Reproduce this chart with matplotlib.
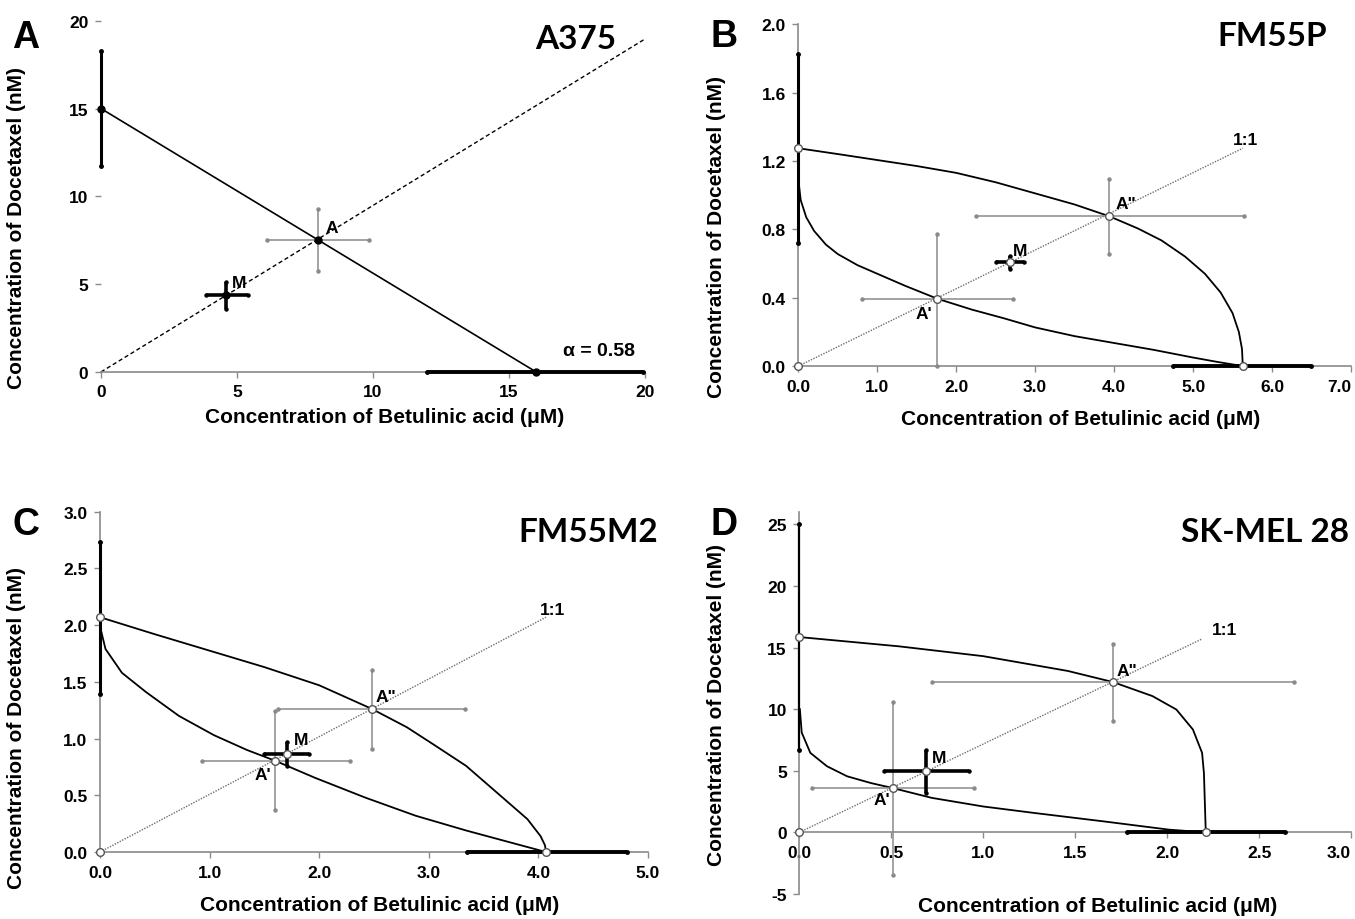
import matplotlib
matplotlib.use("Agg")
import matplotlib.pyplot as plt
from matplotlib.ticker import FormatStrFormatter

plt.rcParams['font.family'] = ['Liberation Sans', 'DejaVu Sans']
plt.rcParams['font.weight'] = 'bold'

GRAY = '#8a8a8a'
XLABEL = 'Concentration of Betulinic acid (\u03bcM)'
YLABEL = 'Concentration of Docetaxel (nM)'

# ---- A: A375 ----
a_iso_x = [0, 16]
a_iso_y = [15, 0]
a_ray_x = [0, 20]
a_ray_y = [0, 18.96]
a_yint_err = [11.74, 18.29]
a_xint_err = [11.97, 19.94]
# name: x, y, xlo, xhi, ylo, yhi
a_pts = {'A': [7.98, 7.52, 6.1, 9.87, 5.75, 9.3],
         'M': [4.6, 4.37, 3.87, 5.4, 3.6, 5.13]}

# ---- B: FM55P ----
b_up_x = [0, 0.5, 1.0, 1.5, 2.0, 2.5, 3.0, 3.5, 3.94, 4.3, 4.6, 4.9, 5.15, 5.35, 5.5, 5.58, 5.62, 5.63]
b_up_y = [1.274, 1.24, 1.205, 1.17, 1.13, 1.075, 1.01, 0.945, 0.876, 0.805, 0.735, 0.64, 0.54, 0.43, 0.31, 0.2, 0.1, 0]
b_lo_x = [0.005, 0.03, 0.1, 0.2, 0.35, 0.5, 0.75, 1.0, 1.35, 1.76, 2.2, 2.6, 3.0, 3.5, 4.0, 4.5, 5.0, 5.3, 5.63]
b_lo_y = [1.07, 0.97, 0.87, 0.79, 0.71, 0.655, 0.59, 0.54, 0.47, 0.394, 0.33, 0.28, 0.226, 0.175, 0.135, 0.095, 0.05, 0.025, 0]
b_ray_x = [0, 5.63]
b_ray_y = [0, 1.274]
b_yint_err = [0.722, 1.824]
b_xint_err = [4.75, 6.5]
b_pts = {"A'": [1.76, 0.394, 0.806, 2.72, 0.0, 0.771],
         'A"': [3.94, 0.876, 2.25, 5.64, 0.658, 1.093],
         'M': [2.68, 0.609, 2.5, 2.86, 0.566, 0.644]}

# ---- C: FM55M2 ----
c_up_x = [0, 0.5, 1.0, 1.5, 2.0, 2.48, 2.8, 3.04, 3.34, 3.65, 3.9, 4.02, 4.06, 4.07]
c_up_y = [2.07, 1.92, 1.775, 1.63, 1.47, 1.262, 1.1, 0.95, 0.76, 0.5, 0.29, 0.14, 0.06, 0]
c_lo_x = [0.005, 0.05, 0.2, 0.42, 0.72, 1.04, 1.34, 1.6, 1.96, 2.42, 2.88, 3.34, 3.8, 4.07]
c_lo_y = [1.97, 1.79, 1.58, 1.41, 1.2, 1.03, 0.9, 0.804, 0.655, 0.48, 0.32, 0.19, 0.07, 0]
c_ray_x = [0, 4.07]
c_ray_y = [0, 2.07]
c_yint_err = [1.394, 2.736]
c_xint_err = [3.35, 4.81]
c_pts = {"A'": [1.6, 0.804, 0.93, 2.28, 0.37, 1.24],
         'A"': [2.48, 1.262, 1.62, 3.33, 0.91, 1.608],
         'M': [1.71, 0.868, 1.5, 1.91, 0.76, 0.97]}

# ---- D: SK-MEL 28 ----
d_up_x = [0, 0.54, 1.0, 1.46, 1.705, 1.92, 2.05, 2.14, 2.19, 2.2, 2.21]
d_up_y = [15.85, 15.1, 14.3, 13.1, 12.2, 11.06, 9.97, 8.35, 6.45, 4.8, 0]
d_lo_x = [0.003, 0.013, 0.06, 0.15, 0.26, 0.39, 0.507, 0.72, 1.0, 1.28, 1.65, 2.01, 2.21]
d_lo_y = [10.0, 8.1, 6.45, 5.37, 4.55, 4.0, 3.6, 2.8, 2.1, 1.57, 0.9, 0.22, 0]
d_ray_x = [0, 2.19]
d_ray_y = [0, 15.7]
d_yint_err = [6.7, 25.0]
d_xint_err = [1.784, 2.642]
d_pts = {"A'": [0.507, 3.6, 0.068, 0.948, -3.46, 10.6],
         'A"': [1.705, 12.2, 0.72, 2.69, 9.0, 15.3],
         'M': [0.69, 4.96, 0.46, 0.92, 3.2, 6.7]}

# label offsets in points
a_off = {'A': (10, 9), 'M': (9, 9)}
b_off = {"A'": (-10, -11), 'A"': (12, 9), 'M': (7, 8)}
c_off = {"A'": (-9, -10), 'A"': (10, 9), 'M': (10, 10)}
d_off = {"A'": (-8, -8), 'A"': (10, 8), 'M': (9, 10)}


def cross(ax, p, thick):
    x, y, xlo, xhi, ylo, yhi = p
    if thick:
        kw = dict(color='black', lw=2.6)
    else:
        kw = dict(color=GRAY, lw=1.1)
    ax.plot([xlo, xhi], [y, y], solid_capstyle='butt', clip_on=False, zorder=3, **kw)
    ax.plot([x, x], [ylo, yhi], solid_capstyle='butt', clip_on=False, zorder=3, **kw)
    ax.plot([xlo, xhi, x, x], [y, y, ylo, yhi], ls='none', marker='o', ms=2.2,
            color=kw['color'], clip_on=False, zorder=3)


def style(ax, xlim, ylim, xticks, yticks, xfmt, yfmt, show_left=True):
    ax.set_xlim(xlim)
    ax.set_ylim(ylim)
    ax.set_xticks(xticks)
    ax.set_yticks(yticks)
    ax.xaxis.set_major_formatter(FormatStrFormatter(xfmt))
    ax.yaxis.set_major_formatter(FormatStrFormatter(yfmt))
    ax.spines['top'].set_visible(False)
    ax.spines['right'].set_visible(False)
    ax.spines['left'].set_visible(show_left)
    for s in ('left', 'bottom'):
        ax.spines[s].set_color(GRAY)
        ax.spines[s].set_linewidth(1.2)
    ax.tick_params(direction='out', length=4, width=1, color=GRAY, labelsize=12.5, pad=5)
    ax.set_xlabel(XLABEL, fontsize=15, fontweight='bold')
    ax.set_ylabel(YLABEL, fontsize=15, fontweight='bold')


def draw_intercepts(ax, yerr, xerr, lw_y):
    ax.plot([0, 0], yerr, color='black', lw=lw_y, solid_capstyle='butt', clip_on=False, zorder=4)
    ax.plot([0, 0], yerr, ls='none', marker='o', ms=2.5, color='black', clip_on=False, zorder=4)
    ax.plot(xerr, [0, 0], color='black', lw=2.8, solid_capstyle='butt', clip_on=False, zorder=4)
    ax.plot(xerr, [0, 0], ls='none', marker='o', ms=2.5, color='black', clip_on=False, zorder=4)


def labels(ax, pts, off):
    for name, p in pts.items():
        ax.annotate(name, (p[0], p[1]), xytext=off[name], textcoords='offset points',
                    ha='center', va='center', fontsize=12.5, fontweight='bold')


def curve_panel(ax, up_x, up_y, lo_x, lo_y, ray_x, ray_y, yerr, xerr, pts, off, lw_y):
    ax.plot(ray_x, ray_y, color='#6e6e6e', lw=1, ls=(0, (1, 1)), clip_on=False, zorder=2)
    ax.plot(up_x, up_y, color='black', lw=1.3, clip_on=False, zorder=2)
    ax.plot(lo_x, lo_y, color='black', lw=1.3, clip_on=False, zorder=2)
    draw_intercepts(ax, yerr, xerr, lw_y)
    cross(ax, pts["A'"], False)
    cross(ax, pts['A"'], False)
    cross(ax, pts['M'], True)
    mx = [0, up_x[-1], 0] + [p[0] for p in pts.values()]
    my = [up_y[0], 0, 0] + [p[1] for p in pts.values()]
    ax.plot(mx, my, ls='none', marker='o', ms=5.5, mfc='white', mec='#555555', mew=1,
            clip_on=False, zorder=5)
    labels(ax, pts, off)


def last_label_right(ax):
    fig.canvas.draw()
    ax.get_xticklabels()[-1].set_ha('right')


fig = plt.figure(figsize=(13.55, 9.2), dpi=100)

# ---------- A ----------
ax = fig.add_axes([0.0745, 0.5946, 0.4015, 0.3818])
ax.plot(a_ray_x, a_ray_y, color='black', lw=1, ls=(0, (3, 2)), clip_on=False, zorder=2)
ax.plot(a_iso_x, a_iso_y, color='black', lw=1.2, clip_on=False, zorder=2)
draw_intercepts(ax, a_yint_err, a_xint_err, 2.2)
cross(ax, a_pts['A'], False)
cross(ax, a_pts['M'], True)
ax.plot([a_iso_x[0], a_iso_x[-1], a_pts['A'][0], a_pts['M'][0]],
        [a_iso_y[0], a_iso_y[-1], a_pts['A'][1], a_pts['M'][1]],
        ls='none', marker='o', ms=5, color='black', clip_on=False, zorder=5)
labels(ax, a_pts, a_off)
ax.text(18.3, 1.2, '\u03b1 = 0.58', ha='center', va='center', fontsize=14, fontweight='bold')
style(ax, (0, 20), (0, 20), [0, 5, 10, 15, 20], [0, 5, 10, 15, 20], '%d', '%d', show_left=False)
ax.xaxis.set_label_coords(0.522, -0.1)
ax.yaxis.set_label_coords(-0.138, 0.413)

# ---------- B ----------
ax = fig.add_axes([0.5892, 0.601, 0.4078, 0.3717])
curve_panel(ax, b_up_x, b_up_y, b_lo_x, b_lo_y, b_ray_x, b_ray_y, b_yint_err, b_xint_err,
            b_pts, b_off, 2.2)
ax.text(5.67, 1.327, '1:1', ha='center', va='center', fontsize=12.5, fontweight='bold')
style(ax, (0, 7), (0, 2), [0, 1, 2, 3, 4, 5, 6, 7], [0, 0.4, 0.8, 1.2, 1.6, 2.0], '%.1f', '%.1f')
ax.xaxis.set_label_coords(0.51, -0.126)
ax.yaxis.set_label_coords(-0.131, 0.38)
last_label_right(ax)

# ---------- C ----------
ax = fig.add_axes([0.0738, 0.0728, 0.4044, 0.3699])
curve_panel(ax, c_up_x, c_up_y, c_lo_x, c_lo_y, c_ray_x, c_ray_y, c_yint_err, c_xint_err,
            c_pts, c_off, 2.2)
ax.text(4.13, 2.137, '1:1', ha='center', va='center', fontsize=12.5, fontweight='bold')
style(ax, (0, 5), (0, 3), [0, 1, 2, 3, 4, 5], [0, 0.5, 1.0, 1.5, 2.0, 2.5, 3.0], '%.1f', '%.1f')
ax.xaxis.set_label_coords(0.51, -0.126)
ax.yaxis.set_label_coords(-0.135, 0.367)

# ---------- D ----------
ax = fig.add_axes([0.5899, 0.0272, 0.4072, 0.4152])
curve_panel(ax, d_up_x, d_up_y, d_lo_x, d_lo_y, d_ray_x, d_ray_y, d_yint_err, d_xint_err,
            d_pts, d_off, 1.6)
ax.text(2.31, 16.5, '1:1', ha='center', va='center', fontsize=12.5, fontweight='bold')
style(ax, (0, 3), (-5, 26), [0, 0.5, 1.0, 1.5, 2.0, 2.5, 3.0], [-5, 0, 5, 10, 15, 20, 25], '%.1f', '%d')
ax.spines['bottom'].set_position(('data', 0))
ax.xaxis.set_label_coords(0.54, -0.005)
ax.yaxis.set_label_coords(-0.133, 0.497)
last_label_right(ax)

# panel letters and cell line names
for x, y, s in [(0.0192, 0.9587, 'A'), (0.5343, 0.9598, 'B'), (0.0192, 0.4293, 'C'), (0.5343, 0.4293, 'D')]:
    fig.text(x, y, s, ha='center', va='center', fontsize=27, fontweight='bold')
for x, y, s in [(0.4546, 0.9576, 'A375'), (0.9793, 0.96, 'FM55P'), (0.4856, 0.4217, 'FM55M2'),
                (0.9956, 0.4217, 'SK-MEL 28')]:
    fig.text(x, y, s, ha='right', va='center', fontsize=24, fontweight='bold', family=['Lato', 'DejaVu Sans'])

fig.savefig('out.png', dpi=100)
